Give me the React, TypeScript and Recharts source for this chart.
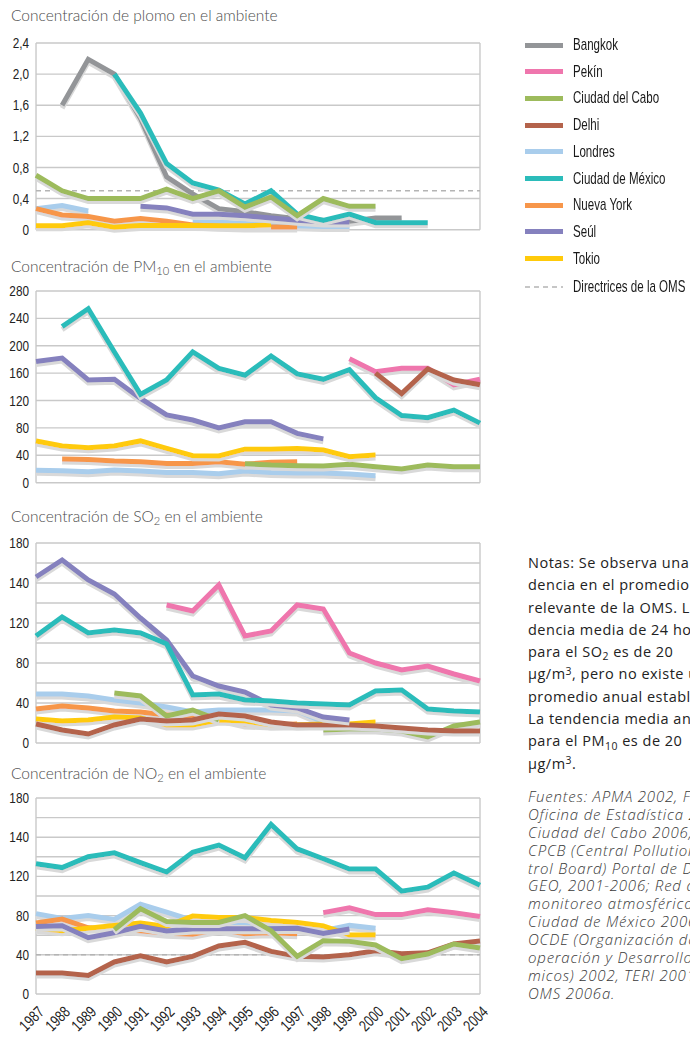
import React from 'react';
import { LineChart, Line, XAxis, YAxis, CartesianGrid, ReferenceLine } from 'recharts';

// ---------- categories ----------
const years = [1987, 1988, 1989, 1990, 1991, 1992, 1993, 1994, 1995, 1996, 1997, 1998, 1999, 2000, 2001, 2002, 2003, 2004];
const cityNames = ['Bangkok', 'Pekín', 'Ciudad del Cabo', 'Delhi', 'Londres', 'Ciudad de México', 'Nueva York', 'Seúl', 'Tokio'];
const whoLabel = 'Directrices de la OMS';

// ---------- tick labels ----------
const leadTicks = [0, 0.4, 0.8, 1.2, 1.6, 2.0, 2.4];
const leadTickLabels = ['0', '0,4', '0,8', '1,2', '1,6', '2,0', '2,4'];
const pmTicks = [0, 40, 80, 120, 160, 200, 240, 280];
const pmTickLabels = ['0', '40', '80', '120', '160', '200', '240', '280'];
const gasTicks = [0, 40, 80, 120, 160, 200];
const gasTickLabels = ['0', '40', '80', '120', '140', '180'];
const gasGridValues = [0, 20, 40, 60, 80, 100, 120, 140, 160, 180, 200];

// ---------- WHO guidelines ----------
const whoLead = 0.5;
const whoNO2 = 40;

// ---------- lead (plomo) ----------
const leadBangkok = [null, 1.6, 2.19, 2.0, 1.43, 0.68, 0.46, 0.27, 0.23, 0.18, 0.14, 0.12, 0.11, 0.15, 0.15, null, null, null];
const leadCapeTown = [0.7, 0.5, 0.4, 0.4, 0.4, 0.52, 0.4, 0.5, 0.29, 0.42, 0.18, 0.4, 0.3, 0.3, null, null, null, null];
const leadLondon = [0.27, 0.31, 0.24, null, null, null, 0.1, 0.1, 0.08, 0.06, 0.05, 0.04, 0.04, null, null, null, null, null];
const leadMexico = [null, null, null, 2.0, 1.5, 0.85, 0.6, 0.51, 0.33, 0.5, 0.2, 0.12, 0.2, 0.09, 0.09, 0.09, null, null];
const leadNewYork = [0.27, 0.19, 0.17, 0.11, 0.145, 0.11, 0.06, 0.045, 0.035, 0.035, 0.035, null, null, null, null, null, null, null];
const leadSeoul = [null, null, null, null, 0.3, 0.28, 0.2, 0.2, 0.18, 0.15, 0.12, 0.1, 0.1, null, null, null, null, null];
const leadTokyo = [0.05, 0.05, 0.09, 0.03, 0.055, 0.055, 0.055, 0.05, 0.05, 0.06, null, null, null, null, null, null, null, null];

// ---------- PM10 ----------
const pmBeijing = [null, null, null, null, null, null, null, null, null, null, null, null, 181, 162, 167, 167, 143, 151];
const pmCapeTown = [null, null, null, null, null, null, null, null, 27.7, 25.8, 24.8, 24.3, 26.8, 23.4, 20, 25.8, 23.4, 23.4];
const pmDelhi = [null, null, null, null, null, null, null, null, null, null, null, null, null, 160, 130, 166, 150, 143];
const pmLondon = [18, 17.5, 16, 18.5, 17, 15, 15, 13, 17, 15, 14, 14, 12.7, 10, null, null, null, null];
const pmMexico = [null, 228, 254, 191, 129, 150, 191, 167, 157, 185, 159, 151, 165, 124, 98, 95, 106, 87];
const pmNewYork = [null, 34.6, 34, 31.6, 30.7, 28, 28, 30.7, 27, 29.7, 30.7, null, null, null, null, null, null, null];
const pmSeoul = [177, 182, 150, 151, 123, 99, 91.5, 80, 89, 89, 72, 64, null, null, null, null, null, null];
const pmTokyo = [61, 53.6, 51, 53.6, 61, 50, 39.4, 39, 49, 49, 50, 47.7, 38, 40.4, null, null, null, null];

// ---------- SO2 (values on the drawn axis) ----------
const so2Beijing = [null, null, null, null, null, 138, 132, 158, 107, 112, 138, 134, 90, 80, 73, 77, 69, 62];
const so2CapeTown = [null, null, null, 50, 47, 27, 33, 23, null, null, null, 13, 14, 14, 12, 6, 17, 21];
const so2Delhi = [19, 13, 9, 18, 24, 22, 23, 29, 27, 21, 18, 18, 18, 17, 15, 13, 12, 12];
const so2London = [49, 49, 47, 43, 40, 36, 31, 33, 33, 33, 32, 21, null, null, null, null, null, null];
const so2Mexico = [107, 126, 110, 113, 110, 99, 48, 49, 43, 42, 40, 39, 38, 52, 53, 34, 32, 31];
const so2NewYork = [34, 37, 35, 32, 31, 28, 25, 25, 19, 18, 19, null, null, null, null, null, null, null];
const so2Seoul = [166, 183, 163, 149, 125, 103, 67, 57, 51, 38, 35, 26, 23, null, null, null, null, null];
const so2Tokyo = [24, 22, 23, 26, 25, 18, 18, 23, 22, 18, 18, 19, 19, 21, null, null, null, null];

// ---------- NO2 (values on the drawn axis) ----------
const no2Beijing = [null, null, null, null, null, null, null, null, null, null, null, 83, 88, 81, 81, 86, 83, 79];
const no2CapeTown = [null, null, null, 65.6, 87, 74, 73, 73, 80, 64.6, 38.4, 54.4, 53.7, 50, 36, 40.8, 51, 47];
const no2Delhi = [21.4, 21.4, 19, 32.7, 39, 32.7, 38.4, 49, 52.7, 43.5, 38.4, 37.8, 40, 44, 41, 42, 51, 54];
const no2London = [82, 77, 80, 76, 91.5, 83.5, 75, 73, 73, 71, 69, 64.5, 70, 67, null, null, null, null];
const no2Mexico = [133, 129, 140, 144, 134, 124.5, 144.6, 152, 139, 173, 148, 138, 127.5, 127.5, 105, 109, 123.5, 111];
const no2NewYork = [72.5, 76.5, 67.5, 66, 64.6, 62, 61, 66, 61.6, 62.5, 61.6, null, null, null, null, null, null, null];
const no2Seoul = [69, 69.7, 57.5, 62.5, 69, 64.3, 66.3, 66.5, 66.7, 66.7, 67, 61.8, 66.3, null, null, null, null, null];
const no2Tokyo = [67, 64.5, 67, 70, 72.4, 69, 79.5, 78, 78, 75, 73, 69.5, 60.3, 60.3, null, null, null, null];

// ---------- styles ----------
const cityColor: Record<string, string> = {
  'Bangkok': '#939598',
  'Pekín': '#ef76ad',
  'Ciudad del Cabo': '#9dbb5c',
  'Delhi': '#b4634b',
  'Londres': '#a9cdec',
  'Ciudad de México': '#2bbcba',
  'Nueva York': '#f7964a',
  'Seúl': '#8581be',
  'Tokio': '#ffca0a',
};
const whoColor = '#b4b4b4';
const gridColor = '#c9c9c9';
const tickFont = "'Liberation Sans', Arial, sans-serif";
const titleFont = "Lato, 'Open Sans', sans-serif";
const bodyFont = "'Open Sans', Lato, sans-serif";

type Series = [string, (number | null)[]];

const buildRows = (series: Series[]) =>
  years.map((year, i) => {
    const r: Record<string, number | null> = { year };
    series.forEach(([k, v]) => { r[k] = v[i]; });
    return r;
  });

const leadSeries: Series[] = [
  ['Londres', leadLondon], ['Bangkok', leadBangkok], ['Nueva York', leadNewYork], ['Tokio', leadTokyo],
  ['Seúl', leadSeoul], ['Ciudad de México', leadMexico], ['Ciudad del Cabo', leadCapeTown],
];
const pmSeries: Series[] = [
  ['Londres', pmLondon], ['Nueva York', pmNewYork], ['Ciudad del Cabo', pmCapeTown], ['Tokio', pmTokyo],
  ['Seúl', pmSeoul], ['Ciudad de México', pmMexico], ['Pekín', pmBeijing], ['Delhi', pmDelhi],
];
const so2Series: Series[] = [
  ['Londres', so2London], ['Nueva York', so2NewYork], ['Tokio', so2Tokyo], ['Ciudad del Cabo', so2CapeTown],
  ['Delhi', so2Delhi], ['Seúl', so2Seoul], ['Ciudad de México', so2Mexico], ['Pekín', so2Beijing],
];
const no2Series: Series[] = [
  ['Londres', no2London], ['Nueva York', no2NewYork], ['Tokio', no2Tokyo], ['Seúl', no2Seoul],
  ['Delhi', no2Delhi], ['Ciudad del Cabo', no2CapeTown], ['Ciudad de México', no2Mexico], ['Pekín', no2Beijing],
];

const makeYTick = (ticks: number[], labels: string[]) => (props: any) => {
  const { x, y, payload } = props;
  const idx = ticks.findIndex((t) => Math.abs(t - payload.value) < 1e-9);
  return (
    <text
      transform={`translate(${x + 1},${y}) scale(0.76,1)`}
      textAnchor="end"
      dominantBaseline="central"
      fontSize={15.5}
      fontFamily={tickFont}
      fill="#222"
    >
      {idx >= 0 ? labels[idx] : ''}
    </text>
  );
};

const XTick = (props: any) => {
  const { x, y, payload } = props;
  return (
    <text
      transform={`translate(${x + 9},${y + 11}) rotate(-45) scale(0.76,1)`}
      textAnchor="end"
      fontSize={16}
      fontFamily={tickFont}
      fill="#222"
    >
      {payload.value}
    </text>
  );
};

type PanelProps = {
  plotTop: number;
  plotHeight: number;
  series: Series[];
  domain: [number, number];
  ticks: number[];
  labels: string[];
  gridValues: number[];
  who?: number;
  showX?: boolean;
};

const Panel = ({ plotTop, plotHeight, series, domain, ticks, labels, gridValues, who, showX }: PanelProps) => {
  const mTop = 10;
  const xH = showX ? 60 : 0;
  const mBottom = showX ? 0 : 10;
  const height = mTop + plotHeight + xH + mBottom;
  const data = buildRows(series);
  return (
    <div className="lc" style={{ position: 'absolute', left: 0, top: plotTop - mTop }}>
      <LineChart width={500} height={height} data={data} margin={{ top: mTop, right: 20, left: 0, bottom: mBottom }}>
        <CartesianGrid
          stroke={gridColor}
          strokeWidth={1.4}
          horizontalValues={gridValues}
          verticalValues={[years[0], years[years.length - 1]]}
        />
        <XAxis
          dataKey="year"
          type="number"
          domain={[years[0], years[years.length - 1]]}
          ticks={years}
          interval={0}
          hide={!showX}
          height={xH}
          axisLine={false}
          tickLine={false}
          tick={<XTick />}
        />
        <YAxis
          type="number"
          domain={domain}
          ticks={ticks}
          interval={0}
          width={36}
          axisLine={false}
          tickLine={false}
          tick={makeYTick(ticks, labels)}
        />
        {who !== undefined && (
          <ReferenceLine y={who} stroke={whoColor} strokeWidth={1.5} strokeDasharray="5 4" />
        )}
        {series.map(([k]) => (
          <Line
            key={k}
            type="linear"
            dataKey={k}
            stroke={cityColor[k]}
            strokeWidth={5}
            dot={false}
            activeDot={false}
            isAnimationActive={false}
            connectNulls={false}
          />
        ))}
      </LineChart>
    </div>
  );
};

const Title = ({ top, children }: { top: number; children: React.ReactNode }) => (
  <div
    style={{
      position: 'absolute', left: 11, top, fontFamily: titleFont, fontWeight: 300, fontSize: 15.5,
      lineHeight: '18px', color: '#4d4d4d', whiteSpace: 'nowrap',
    }}
  >
    {children}
  </div>
);

const Sub = ({ children }: { children: React.ReactNode }) => (
  <span style={{ fontSize: '0.72em', position: 'relative', top: '0.3em' }}>{children}</span>
);
const Sup = ({ children }: { children: React.ReactNode }) => (
  <span style={{ fontSize: '0.72em', position: 'relative', top: '-0.45em' }}>{children}</span>
);

const notesLines = [
  'Notas: Se observa una ten-',
  'dencia en el promedio anual',
  'relevante de la OMS. La ten-',
  'dencia media de 24 horas',
  <>para el SO<Sub>2</Sub> es de 20</>,
  <>µg/m<Sup>3</Sup>, pero no existe un</>,
  'promedio anual establecido.',
  'La tendencia media anual',
  <>para el PM<Sub>10</Sub> es de 20</>,
  <>µg/m<Sup>3</Sup>.</>,
];

const sourceLines = [
  'Fuentes: APMA 2002, Fuente',
  'Oficina de Estadística 2006,',
  'Ciudad del Cabo 2006, Ciudad',
  'CPCB (Central Pollution Con-',
  'trol Board) Portal de Datos',
  'GEO, 2001-2006; Red de',
  'monitoreo atmosférico de la',
  'Ciudad de México 2006,',
  'OCDE (Organización de Co-',
  'operación y Desarrollo Econó-',
  'micos) 2002, TERI 2001,',
  'OMS 2006a.',
];

const legendText: React.CSSProperties = {
  position: 'absolute', left: 48, top: 0, lineHeight: '20px', fontSize: 17, fontFamily: tickFont,
  color: '#1a1a1a', whiteSpace: 'nowrap', transform: 'scaleX(0.68)', transformOrigin: 'left center',
};

export default function App() {
  return (
    <div
      style={{
        position: 'fixed', left: 0, top: 0, width: 690, height: 1046, overflow: 'hidden', background: '#fff',
      }}
    >
      <style>{`.lc .recharts-line-curve { filter: url(#lineShadow); } .lc svg { overflow: visible; }`}</style>
      <svg width={0} height={0} style={{ position: 'absolute' }}>
        <defs>
          <filter id="lineShadow" filterUnits="userSpaceOnUse" x={-50} y={-50} width={700} height={400}>
            <feOffset in="SourceAlpha" dx={0} dy={3} result="off" />
            <feFlood floodColor="#d9d9d9" result="col" />
            <feComposite in="col" in2="off" operator="in" result="sh" />
            <feMerge>
              <feMergeNode in="sh" />
              <feMergeNode in="SourceGraphic" />
            </feMerge>
          </filter>
        </defs>
      </svg>

      <Title top={6}>Concentración de plomo en el ambiente</Title>
      <Panel plotTop={43.3} plotHeight={186.7} series={leadSeries} domain={[0, 2.4]} ticks={leadTicks}
        labels={leadTickLabels} gridValues={leadTicks} who={whoLead} />

      <Title top={257}>Concentración de PM<Sub>10</Sub> en el ambiente</Title>
      <Panel plotTop={291} plotHeight={191.7} series={pmSeries} domain={[0, 280]} ticks={pmTicks}
        labels={pmTickLabels} gridValues={pmTicks} />

      <Title top={507}>Concentración de SO<Sub>2</Sub> en el ambiente</Title>
      <Panel plotTop={543.3} plotHeight={200} series={so2Series} domain={[0, 200]} ticks={gasTicks}
        labels={gasTickLabels} gridValues={gasGridValues} />

      <Title top={764}>Concentración de NO<Sub>2</Sub> en el ambiente</Title>
      <Panel plotTop={798.3} plotHeight={196} series={no2Series} domain={[0, 200]} ticks={gasTicks}
        labels={gasTickLabels} gridValues={gasGridValues} who={whoNO2} showX />

      {/* legend */}
      {cityNames.map((name, i) => (
        <div key={name} style={{ position: 'absolute', left: 525, top: 45 + i * 26.7 - 10, height: 20, width: 165 }}>
          <div style={{ position: 'absolute', left: 0, top: 7.5, width: 38, height: 5, background: cityColor[name] }} />
          <div style={legendText}>{name}</div>
        </div>
      ))}
      <div style={{ position: 'absolute', left: 525, top: 287 - 10, height: 20, width: 165 }}>
        <svg width={40} height={20} style={{ position: 'absolute', left: 0, top: 0 }}>
          <line x1={0} y1={10} x2={38} y2={10} stroke={whoColor} strokeWidth={1.5} strokeDasharray="5 4" />
        </svg>
        <div style={legendText}>{whoLabel}</div>
      </div>

      {/* notes */}
      <div
        style={{
          position: 'absolute', left: 528, top: 552, fontFamily: bodyFont, fontSize: 14.5, lineHeight: '22.3px',
          color: '#222', whiteSpace: 'nowrap', letterSpacing: '0.5px',
        }}
      >
        {notesLines.map((l, i) => (
          <div key={i} style={{ height: 22.3 }}>{l}</div>
        ))}
      </div>
      <div
        style={{
          position: 'absolute', left: 528, top: 788, fontFamily: bodyFont, fontStyle: 'italic', fontWeight: 300,
          fontSize: 15, lineHeight: '17.9px', color: '#3a3a3a', whiteSpace: 'nowrap', letterSpacing: '0.8px',
        }}
      >
        {sourceLines.map((l, i) => (
          <div key={i} style={{ height: 17.9 }}>{l}</div>
        ))}
      </div>
    </div>
  );
}
